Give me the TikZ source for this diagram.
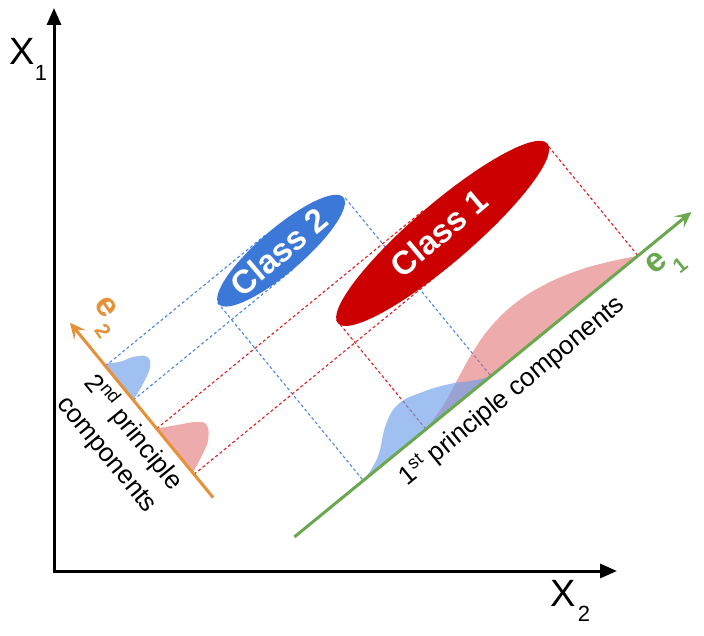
\documentclass[tikz,border=0pt]{standalone}
\usepackage{fontspec}
\setmainfont{Liberation Sans}
\usetikzlibrary{arrows.meta}
\definecolor{c1fill}{RGB}{204,0,0}
\definecolor{c2fill}{RGB}{60,120,216}
\definecolor{pcgreen}{RGB}{106,168,79}
\definecolor{pcorange}{RGB}{230,145,56}
\definecolor{dashblue}{RGB}{74,134,232}
\definecolor{dashred}{RGB}{222,30,30}
\definecolor{distblue}{RGB}{109,158,235}
\definecolor{distred}{RGB}{224,102,102}
\tikzset{
  axisline/.style={line width=3pt, black,
    {Triangle[length=17pt,width=14pt]}-{Triangle[length=17pt,width=14pt]}},
  pcline/.style={line width=3pt, -{Stealth[length=16pt,width=15pt,inset=7pt]}},
  bdash/.style={draw=dashblue, line width=1.1pt, dash pattern=on 3pt off 2.5pt},
  rdash/.style={draw=dashred, line width=1.1pt, dash pattern=on 3pt off 2.5pt},
  bdist/.style={fill=distblue, fill opacity=0.65},
  rdist/.style={fill=distred, fill opacity=0.55},
  classlab/.style={text=white, inner sep=0pt, rotate=40,
    font=\bfseries\fontsize{33}{33}\selectfont},
  pclab/.style={inner sep=0pt, font=\fontsize{26}{30}\selectfont},
  xlab/.style={inner sep=0pt, font=\fontsize{38}{38}\selectfont},
  xsub/.style={inner sep=0pt, font=\fontsize{22}{22}\selectfont},
  elab/.style={inner sep=0pt, font=\bfseries\fontsize{34}{34}\selectfont},
  esub/.style={inner sep=0pt, font=\bfseries\fontsize{21}{21}\selectfont},
}
\begin{document}
\begin{tikzpicture}[x=1pt,y=1pt]
\useasboundingbox (0,0) rectangle (704,-636);

% main axes
\coordinate (O) at (54,-571);
\coordinate (X1tip) at (54,-8);
\coordinate (X2tip) at (617,-571);
\draw[axisline] (X1tip) -- (O) -- (X2tip);
\node[xlab] (X1) at (22,-51) {X};
\node[xsub] (X1s) at (41,-73) {1};
\node[xlab] (X2) at (563,-593) {X};
\node[xsub] (X2s) at (584,-614) {2};

\begin{scope}[shift={(265,-561)}, rotate=39.3]
  \coordinate (e1s) at (38,0);
  \coordinate (e1t) at (551,0);
  \coordinate (e2s) at (0,82);
  \coordinate (e2t) at (0,308);

  % projection lines, class 2
  \draw[bdash] (127,230) -- (127,0);
  \draw[bdash] (292,230) -- (292,0);
  \draw[bdash] (0,252) -- (209,252);
  \draw[bdash] (0,208) -- (209,208);
  % projection lines, class 1
  \draw[rdash] (208,141) -- (208,0);
  \draw[rdash] (482,141) -- (482,0);
  \draw[rdash] (0,171) -- (345,171);
  \draw[rdash] (0,112) -- (345,112);

  % distributions on e1
  \fill[rdist] plot[smooth, tension=0.7] coordinates
    {(208,0) (238,8) (265,19) (293,30) (322,38) (355,41) (390,37) (425,27) (455,14) (482,0)} -- cycle;
  \fill[bdist] plot[smooth, tension=0.7] coordinates
    {(127,0) (153,9) (180,29) (203,37) (229,31) (255,20) (275,8) (291,0)} -- cycle;
  % distributions on e2
  \fill[bdist] plot[smooth, tension=0.7] coordinates
    {(0,255) (14,246) (27,241.5) (38,233) (34,223) (18,214.5) (0,208)} -- cycle;
  \fill[rdist] plot[smooth, tension=0.7] coordinates
    {(0,171) (18,161) (35,151) (41,142) (33,130) (20,122.5) (0,114)} -- cycle;

  % classes
  \fill[c2fill, rotate around={1.3:(209,230)}] (209,230) ellipse [x radius=82, y radius=22];
  \fill[c1fill, rotate around={1.3:(345,141)}] (345,141) ellipse [x radius=138, y radius=29.5];
\end{scope}

% principal component axes
\draw[pcline, pcgreen] (e1s) -- (e1t);
\draw[pcline, pcorange] (e2s) -- (e2t);

% labels
\node[classlab] (c2) at (279,-252) {Class 2};
\node[classlab] (c1) at (439,-233) {Class 1};
\node[pclab, rotate=39.3] (pc1) at (512,-391) {1\textsuperscript{st} principle components};
\node[pclab, rotate=-50.7, align=center] (pc2) at (121,-443) {2\textsuperscript{nd} principle\\[4pt]components};
\node[elab, text=pcgreen, rotate=39.3] (e1) at (656,-263) {e};
\node[esub, text=pcgreen, rotate=39.3] (e1sub) at (680,-265) {1};
\node[elab, text=pcorange, rotate=-55] (e2) at (106,-307) {e};
\node[esub, text=pcorange, rotate=-55] (e2sub) at (103,-331) {2};
\end{tikzpicture}
\end{document}
